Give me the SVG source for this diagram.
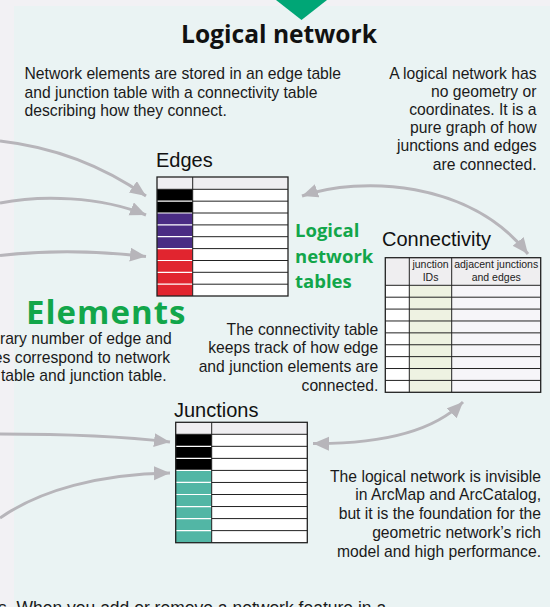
<svg xmlns="http://www.w3.org/2000/svg" width="550" height="607" viewBox="0 0 550 607">
<defs>
<style>
.body{font-family:"Liberation Sans",Arial,sans-serif;font-size:15.7px;fill:#1a1a1a}
.ttl{font-family:"Liberation Sans",Arial,sans-serif;font-size:20px;fill:#111}
.hdr{font-family:"Liberation Sans",Arial,sans-serif;font-size:10.5px;fill:#222;text-anchor:middle}
.green{font-family:"Open Sans","Lato",sans-serif;font-weight:bold;fill:#12a64a}
.conn{fill:none;stroke:#b7b5ba;stroke-width:3}
.border{fill:none;stroke:#222;stroke-width:1.3}
.rl{stroke:#222;stroke-width:1}
.wl{stroke:#fff;stroke-width:1.2}
</style>
<marker id="ah" markerUnits="userSpaceOnUse" markerWidth="17" markerHeight="15" refX="16" refY="7" orient="auto-start-reverse">
<path d="M0,0 L16,7 L0,14 Z" fill="#b7b5ba"/>
</marker>
</defs>
<rect x="0" y="0" width="550" height="607" fill="#f2f1f4"/>
<rect x="14" y="6" width="536" height="601" fill="#eaf3f3"/>
<polygon points="276,0 327,0 301.5,20" fill="#00a676"/>

<g id="title">
<text x="279" y="43" text-anchor="middle" style="font-family:'Open Sans','Lato',sans-serif;font-weight:bold;font-size:24.6px;fill:#111">Logical network</text>
</g>

<g id="text-intro" class="body">
<text x="24.5" y="79">Network elements are stored in an edge table</text>
<text x="24.5" y="97.5">and junction table with a connectivity table</text>
<text x="24.5" y="116">describing how they connect.</text>
</g>

<g id="text-graph" class="body" text-anchor="end">
<text x="536.5" y="78.5">A logical network has</text>
<text x="536.5" y="96.7">no geometry or</text>
<text x="536.5" y="114.9">coordinates. It is a</text>
<text x="536.5" y="133.1">pure graph of how</text>
<text x="536.5" y="151.3">junctions and edges</text>
<text x="536.5" y="169.5">are connected.</text>
</g>

<g id="connectors">
<path class="conn" d="M0,141 Q80,150 146,196" marker-end="url(#ah)"/>
<path class="conn" d="M0,203 C40,195 100,196 146,215" marker-end="url(#ah)"/>
<path class="conn" d="M0,255.5 C40,251 90,250 146,256.5" marker-end="url(#ah)"/>
<path class="conn" d="M0,434 C60,434 120,436 170,442" marker-end="url(#ah)"/>
<path class="conn" d="M0,518 C40,490 100,474 170,473" marker-end="url(#ah)"/>
<path class="conn" d="M302,196 C360,176 470,180 528,254" marker-start="url(#ah)" marker-end="url(#ah)"/>
<path class="conn" d="M313,443.5 C370,444 430,435 463,402" marker-start="url(#ah)" marker-end="url(#ah)"/>
</g>

<g id="node-edges">
<text class="ttl" x="156" y="167.3">Edges</text>
<rect x="157" y="177" width="131" height="12.3" fill="#efeef1"/>
<rect x="157" y="189.3" width="131" height="106.7" fill="#fff"/>
<rect x="157" y="189.3" width="35.7" height="23.7" fill="#000"/>
<rect x="157" y="213" width="35.7" height="35.6" fill="#4a2c84"/>
<rect x="157" y="248.6" width="35.7" height="47.4" fill="#e1252f"/>
<g class="wl">
<line x1="157" y1="201.16" x2="192.7" y2="201.16"/>
<line x1="157" y1="213" x2="192.7" y2="213"/>
<line x1="157" y1="224.9" x2="192.7" y2="224.9"/>
<line x1="157" y1="236.7" x2="192.7" y2="236.7"/>
<line x1="157" y1="248.6" x2="192.7" y2="248.6"/>
<line x1="157" y1="260.5" x2="192.7" y2="260.5"/>
<line x1="157" y1="272.3" x2="192.7" y2="272.3"/>
<line x1="157" y1="284.2" x2="192.7" y2="284.2"/>
</g>
<g class="rl">
<line x1="157" y1="189.3" x2="288" y2="189.3"/>
<line x1="192.7" y1="201.16" x2="288" y2="201.16"/>
<line x1="192.7" y1="213" x2="288" y2="213"/>
<line x1="192.7" y1="224.9" x2="288" y2="224.9"/>
<line x1="192.7" y1="236.7" x2="288" y2="236.7"/>
<line x1="192.7" y1="248.6" x2="288" y2="248.6"/>
<line x1="192.7" y1="260.5" x2="288" y2="260.5"/>
<line x1="192.7" y1="272.3" x2="288" y2="272.3"/>
<line x1="192.7" y1="284.2" x2="288" y2="284.2"/>
<line x1="192.7" y1="177" x2="192.7" y2="296"/>
</g>
<rect class="border" x="157" y="177" width="131" height="119"/>
</g>

<g id="label-tables" class="green" style="font-size:18.5px">
<text x="295" y="237.3">Logical</text>
<text x="295" y="262.7">network</text>
<text x="295" y="288.3">tables</text>
</g>

<g id="node-connectivity">
<text class="ttl" x="382" y="245.7">Connectivity</text>
<rect x="385.3" y="257.7" width="155.4" height="27.6" fill="#efeef0"/>
<rect x="385.3" y="285.3" width="24" height="107" fill="#fff"/>
<rect x="409.3" y="285.3" width="42.4" height="107" fill="#eef2e2"/>
<rect x="451.7" y="285.3" width="89" height="107" fill="#f6f5f9"/>
<text class="hdr" x="430.5" y="268">junction</text>
<text class="hdr" x="430.5" y="280.5">IDs</text>
<text class="hdr" x="496.2" y="268">adjacent junctions</text>
<text class="hdr" x="496.2" y="280.5">and edges</text>
<g class="rl">
<line x1="385.3" y1="285.3" x2="540.7" y2="285.3"/>
<line x1="385.3" y1="297.19" x2="540.7" y2="297.19"/>
<line x1="385.3" y1="309.08" x2="540.7" y2="309.08"/>
<line x1="385.3" y1="320.97" x2="540.7" y2="320.97"/>
<line x1="385.3" y1="332.86" x2="540.7" y2="332.86"/>
<line x1="385.3" y1="344.75" x2="540.7" y2="344.75"/>
<line x1="385.3" y1="356.64" x2="540.7" y2="356.64"/>
<line x1="385.3" y1="368.53" x2="540.7" y2="368.53"/>
<line x1="385.3" y1="380.42" x2="540.7" y2="380.42"/>
<line x1="409.3" y1="257.7" x2="409.3" y2="392.3"/>
<line x1="451.7" y1="257.7" x2="451.7" y2="392.3"/>
</g>
<rect class="border" x="385.3" y="257.7" width="155.4" height="134.6"/>
</g>

<g id="label-elements">
<text class="green" x="26" y="324" style="font-size:33px;letter-spacing:1px">Elements</text>
</g>

<g id="text-elements" class="body" text-anchor="end">
<text x="171.7" y="344">rary number of edge and</text>
<text x="170" y="362.5">es correspond to network</text>
<text x="166.7" y="381">table and junction table.</text>
</g>

<g id="text-connectivity" class="body" text-anchor="end">
<text x="378.3" y="334.5">The connectivity table</text>
<text x="378.3" y="353.2">keeps track of how edge</text>
<text x="378.3" y="371.9">and junction elements are</text>
<text x="378.3" y="390.6">connected.</text>
</g>

<g id="node-junctions">
<text class="ttl" x="174" y="416.7">Junctions</text>
<rect x="175.7" y="422.3" width="131.6" height="12" fill="#efeef1"/>
<rect x="175.7" y="434.3" width="131.6" height="108.4" fill="#fff"/>
<rect x="175.7" y="434.3" width="36" height="36.12" fill="#000"/>
<rect x="175.7" y="470.42" width="36" height="72.28" fill="#52b6a5"/>
<g class="wl">
<line x1="175.7" y1="446.34" x2="211.7" y2="446.34"/>
<line x1="175.7" y1="458.38" x2="211.7" y2="458.38"/>
<line x1="175.7" y1="470.42" x2="211.7" y2="470.42"/>
<line x1="175.7" y1="482.46" x2="211.7" y2="482.46"/>
<line x1="175.7" y1="494.5" x2="211.7" y2="494.5"/>
<line x1="175.7" y1="506.54" x2="211.7" y2="506.54"/>
<line x1="175.7" y1="518.58" x2="211.7" y2="518.58"/>
<line x1="175.7" y1="530.62" x2="211.7" y2="530.62"/>
</g>
<g class="rl">
<line x1="175.7" y1="434.3" x2="307.3" y2="434.3"/>
<line x1="211.7" y1="446.34" x2="307.3" y2="446.34"/>
<line x1="211.7" y1="458.38" x2="307.3" y2="458.38"/>
<line x1="211.7" y1="470.42" x2="307.3" y2="470.42"/>
<line x1="211.7" y1="482.46" x2="307.3" y2="482.46"/>
<line x1="211.7" y1="494.5" x2="307.3" y2="494.5"/>
<line x1="211.7" y1="506.54" x2="307.3" y2="506.54"/>
<line x1="211.7" y1="518.58" x2="307.3" y2="518.58"/>
<line x1="211.7" y1="530.62" x2="307.3" y2="530.62"/>
<line x1="211.7" y1="422.3" x2="211.7" y2="542.7"/>
</g>
<rect class="border" x="175.7" y="422.3" width="131.6" height="120.4"/>
</g>

<g id="text-invisible" class="body" text-anchor="end">
<text x="541" y="481.7">The logical network is invisible</text>
<text x="541" y="500.4">in ArcMap and ArcCatalog,</text>
<text x="541" y="519.1">but it is the foundation for the</text>
<text x="541" y="537.8">geometric network’s rich</text>
<text x="541" y="556.5">model and high performance.</text>
</g>

<g id="text-bottom">
<text x="-2" y="613.5" style="font-family:'Liberation Sans',Arial,sans-serif;font-size:17.5px;fill:#1a1a1a">s. When you add or remove a network feature in a</text>
</g>
</svg>
